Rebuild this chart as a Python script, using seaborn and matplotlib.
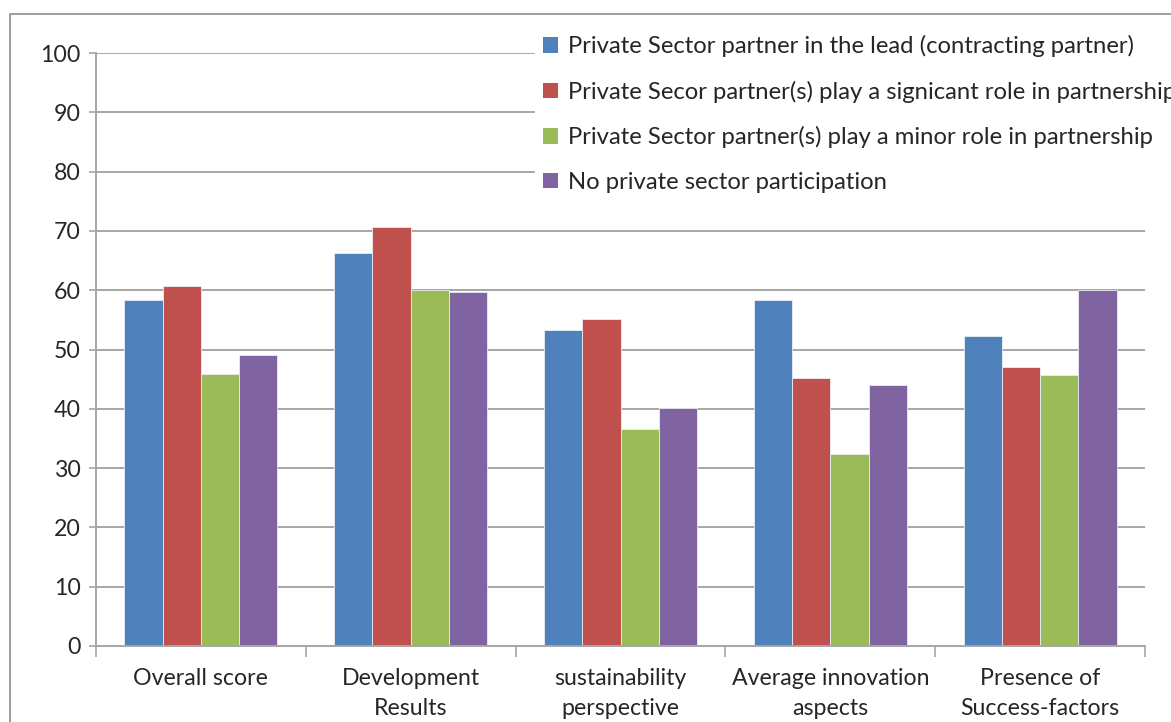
import matplotlib
matplotlib.use("Agg")
import matplotlib.pyplot as plt
import seaborn as sns
import pandas as pd
from matplotlib.patches import Rectangle, Patch

categories = ["Overall score", "Development\nResults", "sustainability\nperspective",
              "Average innovation\naspects", "Presence of\nSuccess-factors"]
series_names = ["Private Sector partner in the lead (contracting partner)",
                "Private Secor partner(s) play a signicant role in partnership",
                "Private Sector partner(s) play a minor role in partnership",
                "No private sector participation"]
lead_vals = [58.3, 66.3, 53.3, 58.3, 52.3]
significant_vals = [60.7, 70.7, 55.1, 45.2, 47.0]
minor_vals = [45.9, 60.0, 36.6, 32.4, 45.7]
none_vals = [49.1, 59.7, 40.1, 44.0, 60.0]
yticks = [0, 10, 20, 30, 40, 50, 60, 70, 80, 90, 100]

colors = ["#4F81BD", "#C0504D", "#9BBB59", "#8064A2"]

rows = []
for name, vals in zip(series_names, [lead_vals, significant_vals, minor_vals, none_vals]):
    for c, v in zip(categories, vals):
        rows.append({"category": c, "series": name, "value": v})
df = pd.DataFrame(rows)

sns.set_theme(style="white")
plt.rcParams['font.family'] = ['Lato', 'DejaVu Sans']

fig = plt.figure(figsize=(11.71, 7.22), dpi=100)
W, H = 1171, 722
ax = fig.add_axes([96 / W, 1 - 646 / H, (1145 - 96) / W, (646 - 53) / H])

sns.barplot(data=df, x="category", y="value", hue="series", palette=colors,
            saturation=1, width=0.73, ax=ax, edgecolor="#e8eef6", linewidth=0.6,
            legend=False, errorbar=None)

ax.set_ylim(0, 100)
ax.set_xlim(-0.5, len(categories) - 0.5)
ax.set_yticks(yticks)
ax.set_yticklabels([str(t) for t in yticks], fontsize=16.7)
ax.grid(axis="y", color="#a6a6a6", linewidth=1.4)
ax.set_axisbelow(True)
ax.set_xlabel("")
ax.set_ylabel("")

for s in ["top", "right"]:
    ax.spines[s].set_visible(False)
for s in ["left", "bottom"]:
    ax.spines[s].set_color("#a6a6a6")
    ax.spines[s].set_linewidth(1.4)

ax.tick_params(axis="y", which="major", length=5, color="#a6a6a6", width=1.2, left=True, pad=6)
ax.set_xticks(range(len(categories)))
ax.set_xticklabels(categories, fontsize=16.7, linespacing=1.5)
ax.tick_params(axis="x", which="major", length=0, pad=16)
ax.set_xticks([i - 0.5 for i in range(len(categories) + 1)], minor=True)
ax.tick_params(axis="x", which="minor", length=8, color="#a6a6a6", width=1.2, bottom=True)

# legend with white background
handles = [Patch(facecolor=c, edgecolor="none") for c in colors]
leg = fig.legend(handles, series_names, loc="upper left",
                 bbox_to_anchor=(535 / W, 1 - 27 / H), frameon=True,
                 fontsize=17.2, handlelength=0.6, handleheight=0.6,
                 handletextpad=0.45, labelspacing=0.98, borderpad=0.35,
                 borderaxespad=0)
leg.get_frame().set_facecolor("white")
leg.get_frame().set_edgecolor("white")
leg.get_frame().set_alpha(1)

# outer chart border
fig.patches.append(Rectangle((10 / W, -0.05), 1.2, 1 - 14 / H + 0.05,
                             transform=fig.transFigure, fill=False,
                             edgecolor="#8c8c8c", linewidth=1.2))

fig.savefig("out.png", dpi=100)
